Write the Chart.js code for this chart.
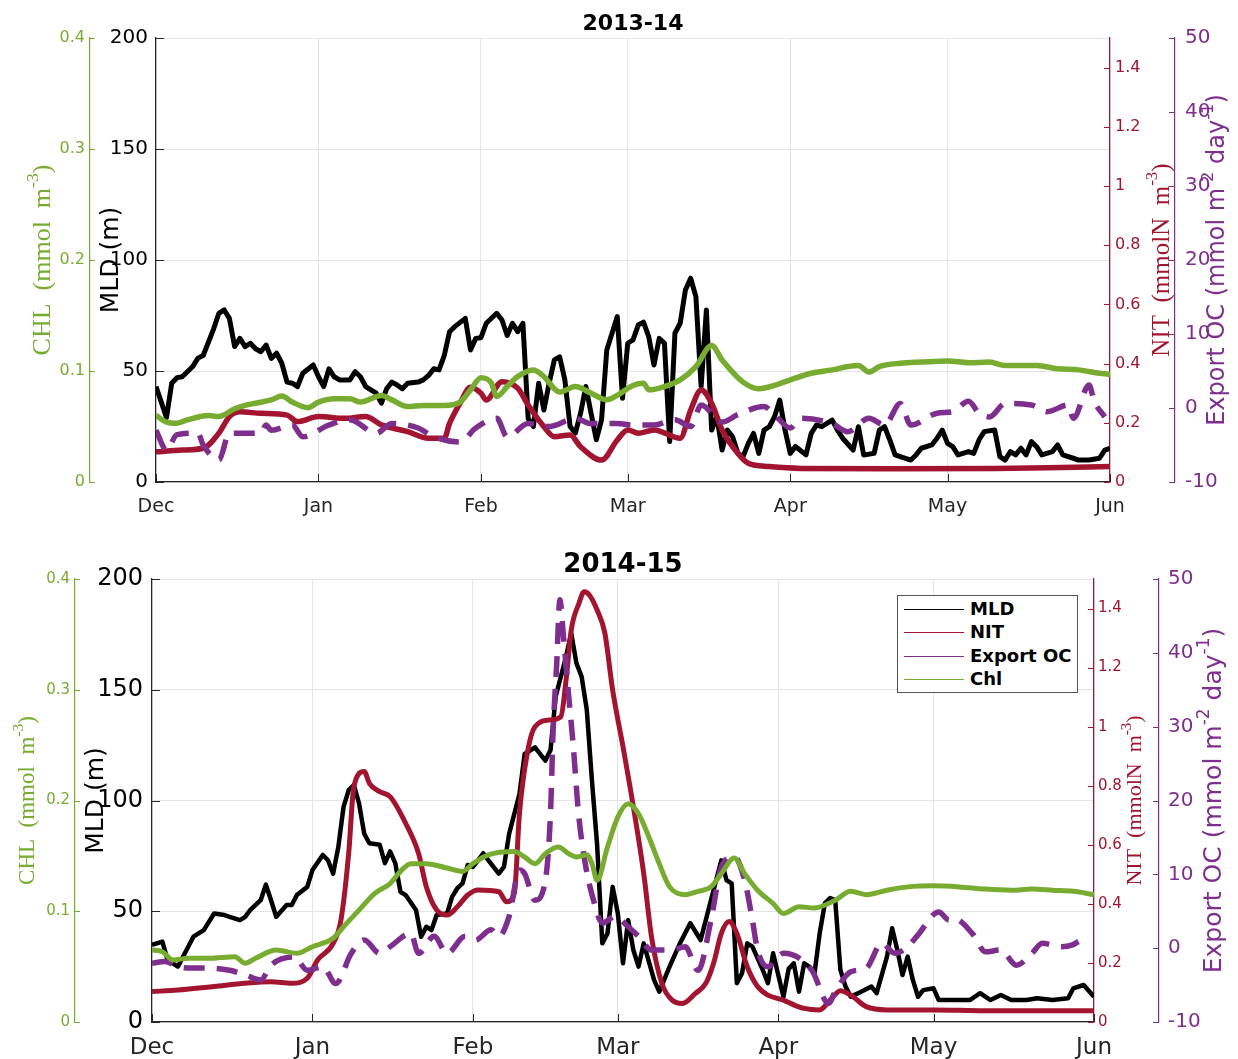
<!DOCTYPE html>
<html>
<head>
<meta charset="utf-8">
<script src="https://cdn.jsdelivr.net/npm/chart.js@4.4.0/dist/chart.umd.min.js"></script>
<style>
  body { margin: 0; background: #fff; width: 1238px; height: 1059px; overflow: hidden; position: relative; font-family: "DejaVu Sans", sans-serif; }
  canvas { position: absolute; left: 0; }
  #top { top: 0; }
  #bottom { top: 530px; }
  #legend { position: absolute; left: 897px; top: 595px; width: 179px; height: 96px; border: 1px solid #555; background: #fff; }
  #legend .sw { position: absolute; left: 6px; width: 60px; height: 0; border-top: 1.5px solid; }
  #legend .lb { position: absolute; left: 72px; font: bold 18px "DejaVu Sans", sans-serif; color: #000; line-height: 20px; }
</style>
</head>
<body>
<canvas id="top" width="1238" height="530"></canvas>
<canvas id="bottom" width="1238" height="529"></canvas>
<div id="legend"></div>
<script>
// ---- axis ticks ----
const monthDays = [0, 31, 62, 90, 121, 151, 182];
const monthLabels = ["Dec", "Jan", "Feb", "Mar", "Apr", "May", "Jun"];
const mldTicks = [0, 50, 100, 150, 200];
const chlTicks = [0, 0.1, 0.2, 0.3, 0.4];
const nitTicks = [0, 0.2, 0.4, 0.6, 0.8, 1, 1.2, 1.4];
const expTicks = [-10, 0, 10, 20, 30, 40, 50];

// ---- 2013-14 (days since 1 Dec) ----
const mldDays13 = [0,2,3,4,5,7,8,9,11,12,13,14,15,16,17,18,19,20,21,22,23,24,25,26,27,28,30,31,32,33,34,35,37,38,39,40,42,43,44,45,46,47,48,50,51,52,53,54,55,56,57,59,60,61,62,63,65,66,67,68,69,70,71,72,73,74,75,76,77,78,79,80,81,82,83,84,85,86,88,89,90,91,92,93,94,95,96,97,98,99,100,101,102,103,104,105,106,107,108,109,110,111,112,113,114,115,116,117,118,119,120,121,122,124,125,126,127,129,130,131,133,134,135,137,138,139,140,141,142,144,145,146,148,149,150,151,152,153,155,156,157,158,160,161,162,163,164,165,166,167,168,169,171,172,173,175,176,178,180,181,182];
const mld13 = [43,29,44.5,47,47.4,52,55.8,57,69,76,77.5,73.7,61,64.7,61,62.5,60,58.7,61.7,55.7,58,53.5,45,44.5,43,49,52.7,47.4,43,51,47.4,46,46,49.7,47.4,43,40,35.5,42,45,43.7,42,44.5,45,46,48,51,50.5,57,67.7,70,73.7,59.5,64.7,65,71.5,76,73,66,71.5,67.7,71.5,28.7,25,44.5,32.4,44.5,55,56.4,46,25,22,31,43,31,19,28,59.5,74.5,37.7,62.5,64,70.7,72,65.5,52.7,64.7,62.5,18.2,67,71.5,86.5,91.8,83.5,43,77.5,23.4,29.4,14.4,23.4,20.4,12.9,11.4,17.4,21.9,12.9,23.4,24.9,29.4,36.9,23.4,12.9,16,12.2,21.9,25.7,24.9,27.9,23.4,19.7,14.4,24.9,12.2,12.9,23.4,24.9,18.9,12.2,11.4,9.9,12.2,15.2,16.7,19.7,23.4,17.4,15.9,12.2,13.7,12.9,18.9,22.7,23.4,11.4,9.9,13.7,12.2,15.2,12.2,18.2,15.9,12.2,13.7,16.7,12.2,10.7,9.9,9.9,10.7,14.4,15.2];
const nitDays13 = [0,5,9,12,14,16,20,25,27,31,36,40,43,48,52,55,56,58,60,62,63,66,69,71,74,76,79,81,85,88,90,92,95,100,102,104,106,108,111,113,117,123,140,160,170,182];
const nit13 = [.102,.108,.114,.165,.221,.237,.232,.226,.204,.221,.215,.221,.193,.170,.148,.148,.198,.266,.320,.300,.277,.339,.317,.260,.187,.153,.159,.119,.074,.142,.176,.165,.176,.148,.243,.311,.266,.176,.097,.063,.052,.046,.045,.046,.048,.052];
const expDays13 = [0,2,4,8,9,12,14,20,21,22,26,28,33,37,42,45,50,53,58,61,65,67,71,75,80,83,88,91,95,99,102,104,108,111,116,118,121,123,129,132,136,139,142,144,149,152,155,157,159,162,167,170,174,175,178,179,181];
const exp13 = [-3.0,-5.7,-3.6,-3.4,-5.0,-7.0,-3.4,-3.4,-2.3,-3.0,-2.3,-3.9,-2.3,-1.6,-3.4,-2.1,-2.7,-3.9,-4.6,-2.7,-1.4,-3.9,-2.1,-2.5,-1.4,-2.1,-2.1,-2.3,-2.3,-1.6,-2.5,0.4,-1.9,-0.9,0.2,-0.9,-2.7,-1.4,-2.1,-3.2,-1.4,-2.3,0.6,-2.3,-0.7,-0.5,0.9,-0.7,-1.2,0.6,0.4,-0.5,0.4,-1.4,3.1,0.9,-1.2];
const chlDays13 = [0,2,4,6,10,12,15,17,19,22,24,26,29,31,34,37,39,43,45,48,51,55,58,60,62,64,65,67,69,72,74,77,80,83,86,88,91,93,94,97,100,103,106,108,112,115,118,121,125,129,132,134,136,138,142,146,151,155,159,162,168,172,176,180,182];
const chl13 = [.060,.054,.053,.056,.060,.059,.066,.069,.071,.074,.0775,.072,.067,.072,.075,.075,.072,.078,.074,.068,.069,.069,.072,.083,.094,.089,.077,.086,.095,.101,.095,.081,.086,.080,.074,.078,.087,.089,.083,.086,.092,.104,.123,.110,.090,.084,.087,.092,.098,.101,.104,.105,.099,.104,.107,.108,.109,.1075,.108,.105,.105,.102,.101,.098,.097];

// ---- 2014-15 ----
const mldDays14 = [0,2,3,5,7,8,10,12,14,15,17,18,19,21,22,23,24,26,27,28,30,31,33,34,35,36,37,38,39,40,41,42,44,45,46,47,48,49,51,52,53,54,55,57,58,59,60,61,62,63,64,65,67,68,69,71,72,74,76,77,78,80,81,82,83,84,85,86,87,88,89,90,91,92,93,94,95,97,98,100,102,104,106,108,110,111,112,113,114,115,116,118,119,120,122,123,124,125,126,127,128,129,130,131,132,133,134,135,137,139,140,142,143,144,145,146,147,148,149,151,152,155,158,160,162,164,166,169,171,174,177,178,180,182];
const mld14 = [34.8,36.3,28,25,34,38.5,41.5,49,48.3,47.5,46,47.5,50.6,55,62,55,47.5,52.8,52.8,57.3,61,68.6,75.4,73,67,79,97,104.7,107,98.7,85,80.7,80,71.7,77,71.7,58.8,57.3,50.6,38.5,43,41.5,48.3,49,56.6,60.4,62.6,70.9,70,73,76.2,73,67,70,85,103,121,124,118,122.8,147,165,175.5,162,156,141,109,80,35.5,40,61,49,26.5,46,32.5,25,35.5,19,13.7,25,35.5,44.6,37,55,73,64,62.6,17.5,22,35.5,34,23.5,17.5,31,11.4,24,26.5,13.7,26.5,25,22,40,53.6,56,55,23.5,16,11.4,13.7,16,13,29.5,42.3,32.5,21.2,29.5,19,11.4,14.4,15.2,9.9,9.9,9.9,13,9.9,12.2,9.9,9.9,10.7,9.9,10.7,15.2,16.7,11.4];
const nitDays14 = [0,5,12,18,23,27,30,32,35,36.5,38,39,41,42,44,46,49,51.5,53,55,57,59,61,63,67,68.5,70,71,72.5,74,77,79,80,81,82.5,83.5,84.5,86,87.5,89,91,93,95,96.5,98.5,100.5,102.5,105,107,108.5,110,111.5,113,115,117,119,122,124,126,129,131,133,135,138,142,151,161,182];
const nit14 = [.103,.108,.120,.131,.136,.131,.148,.210,.266,.345,.571,.797,.848,.808,.780,.763,.673,.571,.458,.379,.362,.390,.430,.447,.441,.407,.436,.707,.910,1.0,1.023,1.034,1.158,1.327,1.418,1.457,1.446,1.395,1.316,1.124,.932,.729,.503,.289,.131,.074,.063,.097,.131,.199,.300,.340,.300,.187,.120,.091,.074,.058,.046,.041,.074,.106,.091,.052,.041,.041,.038,.038];
const expDays14 = [0,2.5,5,8,11,15,18,21,23,27.5,30,33,35.5,38.5,41,44,46,50,51.5,54.5,57,60.5,62.5,65.5,67,69,71,72,74,76,77,77.5,78.2,78.8,79.5,80.4,81.4,82.4,83.7,85.3,87,89.5,92,94,96.5,100.5,103,105.5,108,110,112.5,114.5,116,117,119,122,127.5,130.7,132,135,138,141,143.5,146,148,152,154,155,158.7,161,164,167,170,172,175.7,177.7,179];
const exp14 = [-2.05,-1.8,-2.5,-2.7,-2.7,-3.0,-3.6,-4.3,-2.3,-1.2,-3.0,-2.5,-4.8,-0.7,1.1,-0.7,0.2,2.0,-0.7,1.6,-0.7,1.6,1.1,2.5,1.6,4.3,10.6,10.1,6.5,9.2,18.3,29.5,38.6,47.2,42.2,35,27.3,18.3,11.5,6.5,3.4,4.3,2.9,1.6,-0.25,-0.25,0.2,-3.0,3.8,11,12.4,9.2,3.8,-0.25,-2.5,-0.7,-3.0,-7.5,-5.9,-3.2,-2.7,0.66,-0.7,0.2,1.8,4.9,3.8,4.0,1.8,-0.5,-0.25,-2.3,-0.7,0.66,0.2,0.4,0.9];
const chlDays14 = [0,2,4,7,11,16,18,20,24,28,31,35,37,40,43,46,48,50,53,57,60,62,65,70,72,74,76,78.5,80.5,82,84,85,86,88,90,92,94,96,98,100,103,105.5,108,110,112.5,114.5,117,120,122,125,128,132,135,138,142,146,151,156,161,166,170,174,178,182];
const chl14 = [.065,.0635,.056,.0575,.0575,.059,.053,.0575,.065,.062,.068,.0756,.086,.101,.116,.125,.136,.143,.143,.139,.136,.143,.151,.154,.149,.143,.152,.158,.152,.149,.151,.143,.128,.158,.185,.197,.188,.167,.143,.122,.115,.118,.122,.134,.148,.134,.119,.107,.098,.104,.103,.110,.118,.115,.119,.122,.123,.122,.120,.119,.120,.119,.118,.115];

const COLORS = { mld: "#000000", nit: "#A2142F", exp: "#7E2F8E", chl: "#77AC30", axis: "#262626", grid: "#e4e4e4" };
const FONT = "DejaVu Sans";

// draws inward tick marks and the rotated axis titles (with superscripts)
const axisDecor = {
  id: "axisDecor",
  afterDraw(chart, args, opts) {
    const ctx = chart.ctx;
    const area = chart.chartArea;
    opts.ticks.forEach(t => {
      const s = chart.scales[t.id];
      ctx.save();
      ctx.strokeStyle = t.color;
      ctx.lineWidth = 1;
      s.ticks.forEach((tk, i) => {
        const p = Math.round(s.getPixelForTick(i)) + 0.5;
        ctx.beginPath();
        if (s.isHorizontal()) { ctx.moveTo(p, s.top); ctx.lineTo(p, s.top - t.len); }
        else if (s.position === "left") { ctx.moveTo(s.right, p); ctx.lineTo(s.right + t.len, p); }
        else { ctx.moveTo(s.left, p); ctx.lineTo(s.left - t.len, p); }
        ctx.stroke();
      });
      ctx.restore();
    });
    opts.titles.forEach(t => {
      const s = chart.scales[t.id];
      const x = (s.position === "left" ? s.right : s.left) + t.dx;
      const y = (area.top + area.bottom) / 2;
      const parts = t.text.split(/\^\{([^}]*)\}/).map((str, i) => ({ str, sup: i % 2 === 1 }));
      ctx.save();
      ctx.translate(x, y);
      ctx.rotate(-Math.PI / 2);
      ctx.fillStyle = t.color;
      ctx.textBaseline = "middle";
      ctx.textAlign = "left";
      const fonts = parts.map(p => (p.sup ? t.size * 0.68 : t.size) + "px " + t.family);
      const widths = parts.map((p, i) => { ctx.font = fonts[i]; return ctx.measureText(p.str).width; });
      let cx = -widths.reduce((a, b) => a + b, 0) / 2;
      parts.forEach((p, i) => {
        ctx.font = fonts[i];
        ctx.fillText(p.str, cx, p.sup ? -t.size * 0.38 : 0);
        cx += widths[i];
      });
      ctx.restore();
    });
  }
};

function yScale(pos, weight, min, max, vals, color, g, key, showGrid) {
  return {
    type: "linear", position: pos, weight, min, max,
    afterBuildTicks: sc => { sc.ticks = vals.map(v => ({ value: v })); },
    afterFit: sc => { sc.width = g.w[key]; },
    ticks: { color, padding: g.pad[key], font: { family: FONT, size: g.fs[key] }, callback: v => String(v) },
    grid: showGrid ? { color: COLORS.grid, drawTicks: false, lineWidth: 1 } : { display: false, drawTicks: false },
    border: { color: pos === "left" && key === "y" ? COLORS.axis : color, width: 1.2 }
  };
}

function buildChart(id, s, g) {
  const ds = (label, days, vals, axis, color, width, extra) => Object.assign({
    label, data: days.map((x, i) => ({ x, y: vals[i] })), yAxisID: axis,
    borderColor: color, backgroundColor: color, borderWidth: width,
    pointRadius: 0, fill: false, borderJoinStyle: "round"
  }, extra);
  return new Chart(document.getElementById(id), {
    type: "line",
    data: {
      datasets: [
        ds("MLD", s.mldDays, s.mld, "y", COLORS.mld, g.lw.mld, { tension: 0, order: 3 }),
        ds("NIT", s.nitDays, s.nit, "nit", COLORS.nit, g.lw.nit, { cubicInterpolationMode: "monotone", order: 2 }),
        ds("Export OC", s.expDays, s.exp, "exp", COLORS.exp, g.lw.exp, { cubicInterpolationMode: "monotone", borderDash: [21, 12], order: 1 }),
        ds("Chl", s.chlDays, s.chl, "chl", COLORS.chl, g.lw.chl, { cubicInterpolationMode: "monotone", order: 0 })
      ]
    },
    options: {
      responsive: false, animation: false, devicePixelRatio: 1, events: [],
      layout: { padding: { left: g.padL, right: g.padR, top: 0, bottom: 0 } },
      plugins: {
        legend: { display: false },
        tooltip: { enabled: false },
        title: { display: true, text: g.title, fullSize: false, color: "#000",
                 font: { family: FONT, size: g.titleSize, weight: "bold", lineHeight: 1 }, padding: g.titlePad },
        axisDecor: {
          ticks: [
            { id: "x", len: 8, color: COLORS.axis },
            { id: "y", len: 8, color: COLORS.axis },
            { id: "chl", len: 5, color: COLORS.chl },
            { id: "nit", len: 6, color: COLORS.nit },
            { id: "exp", len: 6, color: COLORS.exp }
          ],
          titles: [
            { id: "chl", text: "CHL  (mmol  m^{-3})", dx: g.dx.chl, size: g.ts.chl, family: "Liberation Serif", color: COLORS.chl },
            { id: "y", text: "MLD (m)", dx: g.dx.y, size: g.ts.y, family: FONT, color: "#000" },
            { id: "nit", text: "NIT  (mmolN  m^{-3})", dx: g.dx.nit, size: g.ts.nit, family: "Liberation Serif", color: COLORS.nit },
            { id: "exp", text: "Export OC (mmol m^{-2} day^{-1})", dx: g.dx.exp, size: g.ts.exp, family: FONT, color: COLORS.exp }
          ]
        }
      },
      scales: {
        x: {
          type: "linear", position: "bottom", min: 0, max: 182,
          afterBuildTicks: sc => { sc.ticks = monthDays.map(v => ({ value: v })); },
          afterFit: sc => { sc.height = g.xH; },
          ticks: { color: COLORS.axis, padding: g.pad.x, maxRotation: 0, autoSkip: false,
                   font: { family: FONT, size: g.fs.x }, callback: v => monthLabels[monthDays.indexOf(v)] },
          grid: { color: COLORS.grid, drawTicks: false },
          border: { color: COLORS.axis, width: 1.2 }
        },
        y: yScale("left", 0, 0, 200, mldTicks, "#000", g, "y", true),
        chl: yScale("left", 1, 0, 0.4, chlTicks, COLORS.chl, g, "chl", false),
        nit: yScale("right", 0, 0, 1.5, nitTicks, COLORS.nit, g, "nit", false),
        exp: yScale("right", 1, -10, 50, expTicks, COLORS.exp, g, "exp", false)
      }
    },
    plugins: [axisDecor]
  });
}

buildChart("top",
  { mldDays: mldDays13, mld: mld13, nitDays: nitDays13, nit: nit13, expDays: expDays13, exp: exp13, chlDays: chlDays13, chl: chl13 },
  {
    title: "2013-14", titleSize: 22, titlePad: { top: 13, bottom: 3 },
    padL: 10, padR: 10, xH: 48,
    w: { chl: 80, y: 66, nit: 65, exp: 53 },
    pad: { chl: 5, y: 8, nit: 5, exp: 10, x: 14 },
    fs: { chl: 16, y: 20, nit: 16, exp: 20, x: 19 },
    dx: { chl: -47, y: -45, nit: 52, exp: 43 },
    ts: { chl: 26, y: 25, nit: 25, exp: 24 },
    lw: { mld: 5, nit: 5.5, exp: 5.5, chl: 5.5 }
  });

const bottomChart = buildChart("bottom",
  { mldDays: mldDays14, mld: mld14, nitDays: nitDays14, nit: nit14, expDays: expDays14, exp: exp14, chlDays: chlDays14, chl: chl14 },
  {
    title: "2014-15", titleSize: 26, titlePad: { top: 22.5, bottom: 0.5 },
    padL: 5, padR: 10, xH: 37,
    w: { chl: 70, y: 77, nit: 65, exp: 69 },
    pad: { chl: 5, y: 9, nit: 4, exp: 9, x: 12 },
    fs: { chl: 15, y: 24, nit: 15, exp: 20, x: 23 },
    dx: { chl: -47, y: -56, nit: 41, exp: 55 },
    ts: { chl: 23, y: 25, nit: 22, exp: 25 },
    lw: { mld: 4.5, nit: 5, exp: 5.5, chl: 5 }
  });

// legend box for the lower panel, built from the chart's datasets
const legend = document.getElementById("legend");
bottomChart.data.datasets.forEach((d, i) => {
  const cy = 13 + i * 23.4;
  const sw = document.createElement("div");
  sw.className = "sw";
  sw.style.top = cy + "px";
  sw.style.borderTopColor = d.borderColor;
  const lb = document.createElement("div");
  lb.className = "lb";
  lb.style.top = (cy - 10) + "px";
  lb.textContent = d.label;
  legend.appendChild(sw);
  legend.appendChild(lb);
});
</script>
</body>
</html>
